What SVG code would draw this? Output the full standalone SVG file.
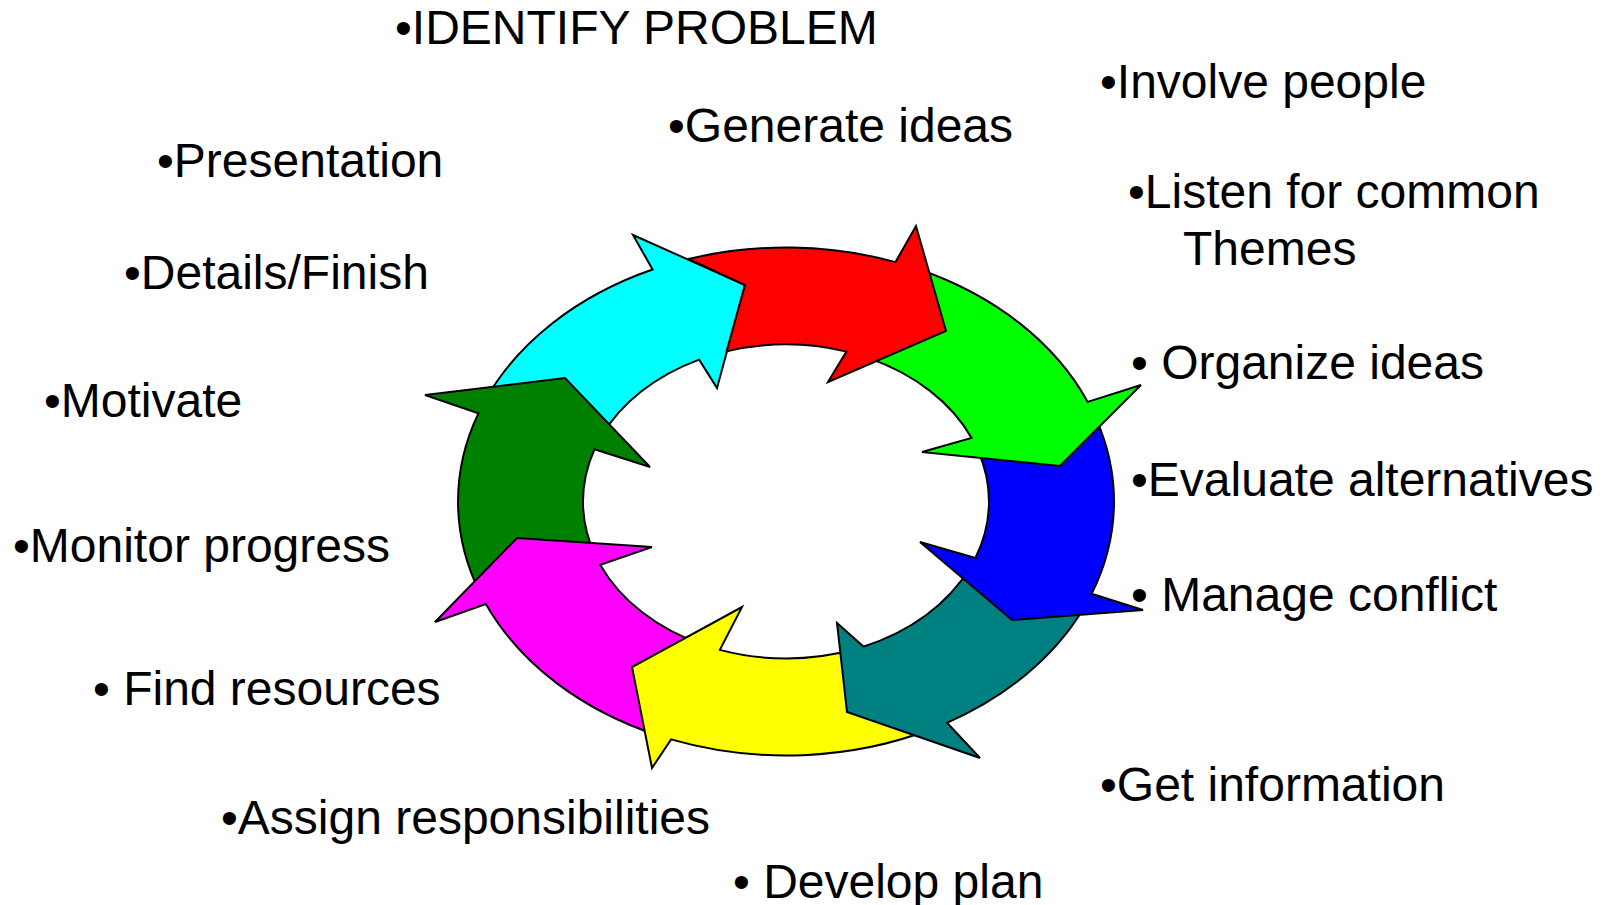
<svg xmlns="http://www.w3.org/2000/svg" width="1610" height="905" viewBox="0 0 1610 905">
  <style>
    .arrow { stroke: #000; stroke-width: 2; stroke-linejoin: miter; }
    .label { font-family: "Liberation Sans", Arial, sans-serif; font-size: 48px; fill: #000; }
  </style>
  <rect width="1610" height="905" fill="#fff"/>

  <!-- Ring of eight curved block arrows (clockwise). Each tail tucks under the previous head. -->
  <g id="cycle">
    <g id="arrow-cyan">
      <path class="arrow" fill="#00FFFF" d="M 485.2,400.2 A 328 254 0 0 1 652.6,269.5 L 633,235 L 745,285 L 717,388 L 699.2,359.6 A 203 157 0 0 0 601.3,436.4 Z"/>
    </g>
    <g id="arrow-darkgreen">
      <path class="arrow" fill="#008000" d="M 479.8,592.5 A 328 254 0 0 1 478.4,413.4 L 425,395 L 565,378 L 650,467 L 594.5,449.3 A 203 157 0 0 0 595.2,555.2 Z"/>
    </g>
    <g id="arrow-magenta">
      <path class="arrow" fill="#FF00FF" d="M 657.8,735.3 A 328 254 0 0 1 485.9,604 L 435,622 L 517,538 L 652,547 L 600.3,564.9 A 203 157 0 0 0 703.4,644.9 Z"/>
    </g>
    <g id="arrow-yellow">
      <path class="arrow" fill="#FFFF00" d="M 932.4,728.8 A 328 254 0 0 1 671.1,739.4 L 652,768 L 632,667 L 742,607 L 719.9,649.9 A 203 157 0 0 0 853.8,649.5 Z"/>
    </g>
    <g id="arrow-teal">
      <path class="arrow" fill="#008080" d="M 1083.3,608.8 A 328 254 0 0 1 947,722.8 L 980,758 L 847,712 L 837,623 L 863.4,646.6 A 203 157 0 0 0 970,567.8 Z"/>
    </g>
    <g id="arrow-blue">
      <path class="arrow" fill="#0000FF" d="M 1096.1,418.8 A 328 254 0 0 1 1091.6,593.8 L 1143,610 L 1012,620 L 920,542 L 975.4,558 A 203 157 0 0 0 977.9,450.4 Z"/>
    </g>
    <g id="arrow-lime">
      <path class="arrow" fill="#00FF00" d="M 919.4,269.5 A 328 254 0 0 1 1087.7,401.9 L 1141,385 L 1060,466 L 922,452 L 971.6,437.9 A 203 157 0 0 0 868.6,358.1 Z"/>
    </g>
    <g id="arrow-red">
      <path class="arrow" fill="#FF0000" d="M 688.5,259 A 328 254 0 0 1 895.5,262.1 L 916,226 L 946,331 L 828,382 L 846.4,351.6 A 203 157 0 0 0 726.6,351.4 L 745,285 Z"/>
    </g>
  </g>

  <!-- Step labels -->
  <g id="labels">
    <text class="label" x="395" y="44">•IDENTIFY PROBLEM</text>
    <text class="label" x="668" y="142">•Generate ideas</text>
    <text class="label" x="1100" y="98">•Involve people</text>
    <text class="label" x="157" y="177">•Presentation</text>
    <text class="label" x="1128" y="208">•Listen for common</text>
    <text class="label" x="1183" y="265">Themes</text>
    <text class="label" x="124" y="289">•Details/Finish</text>
    <text class="label" x="1131" y="379">• Organize ideas</text>
    <text class="label" x="44" y="417">•Motivate</text>
    <text class="label" x="1131" y="496">•Evaluate alternatives</text>
    <text class="label" x="13" y="562">•Monitor progress</text>
    <text class="label" x="1131" y="611">• Manage conflict</text>
    <text class="label" x="93" y="705">• Find resources</text>
    <text class="label" x="1100" y="801">•Get information</text>
    <text class="label" x="221" y="834">•Assign responsibilities</text>
    <text class="label" x="733" y="898">• Develop plan</text>
  </g>
</svg>
